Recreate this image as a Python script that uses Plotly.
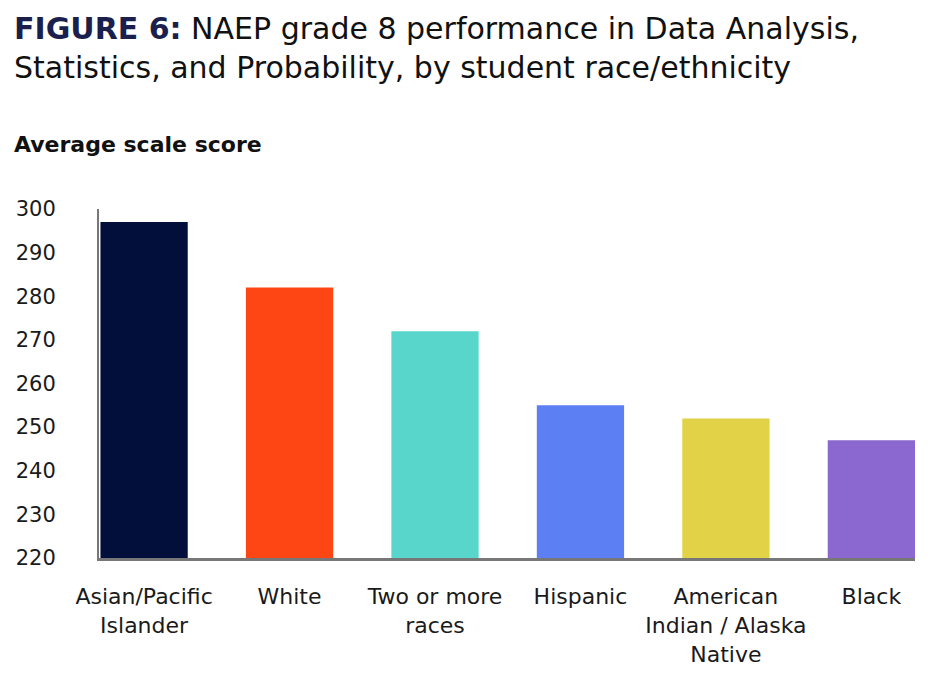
import plotly.graph_objects as go

categories = ["Asian/Pacific<br>Islander", "White", "Two or more<br>races", "Hispanic",
              "American<br>Indian / Alaska<br>Native", "Black"]
scores = [297, 282, 272, 255, 252, 247]
colors = ["#020f3a", "#fe4614", "#58d6cc", "#5c7ff3", "#e1d247", "#8a68cf"]
y_ticks = [220, 230, 240, 250, 260, 270, 280, 290, 300]

FONT = "DejaVu Sans"

L, T, R, B = 99, 209, 20, 120
PW = 935 - L - R
PH = 678 - T - B

fig = go.Figure(go.Bar(
    x=list(range(len(categories))),
    y=scores,
    marker=dict(color=colors, line=dict(width=0)),
    width=0.6,
    hoverinfo="skip",
))

fig.update_layout(
    width=935, height=678,
    margin=dict(l=L, r=R, t=T, b=B),
    paper_bgcolor="white", plot_bgcolor="white",
    showlegend=False,
    font=dict(family=FONT, color="#1a1a1a"),
    annotations=[
        dict(
            text="<b><span style='color:#1b1f4d'>FIGURE 6:</span></b> NAEP grade 8 performance in Data Analysis,<br>Statistics, and Probability, by student race/ethnicity",
            xref="paper", yref="paper",
            x=(12 - L) / PW, xanchor="left",
            y=1 + (T - 9) / PH, yanchor="top",
            align="left", showarrow=False,
            font=dict(family=FONT, size=30, color="#111111"),
        ),
        dict(
            text="<b>Average scale score</b>",
            xref="paper", yref="paper",
            x=(12 - L) / PW, xanchor="left",
            y=1 + (T - 145) / PH, yanchor="middle",
            align="left", showarrow=False,
            font=dict(family=FONT, size=22, color="#111111"),
        ),
    ],
)

fig.update_xaxes(
    range=[-0.31, 5.30],
    tickmode="array",
    tickvals=list(range(len(categories))),
    ticktext=categories,
    tickfont=dict(family=FONT, size=22, color="#1a1a1a"),
    showgrid=False, zeroline=False,
    showline=True, linecolor="#777777", linewidth=3,
    ticks="", ticklabelstandoff=17,
    fixedrange=True,
)
fig.update_yaxes(
    range=[220, 300],
    tickmode="array",
    tickvals=y_ticks,
    ticktext=[str(v) for v in y_ticks],
    tickfont=dict(family=FONT, size=21, color="#1a1a1a"),
    showgrid=False, zeroline=False,
    showline=True, linecolor="#777777", linewidth=2,
    ticks="", ticklabelstandoff=37,
    fixedrange=True,
)

fig.write_html(
    "out.html",
    config={"displayModeBar": False, "staticPlot": True},
    post_script="document.body.style.margin='0';document.body.style.overflow='hidden';",
)
